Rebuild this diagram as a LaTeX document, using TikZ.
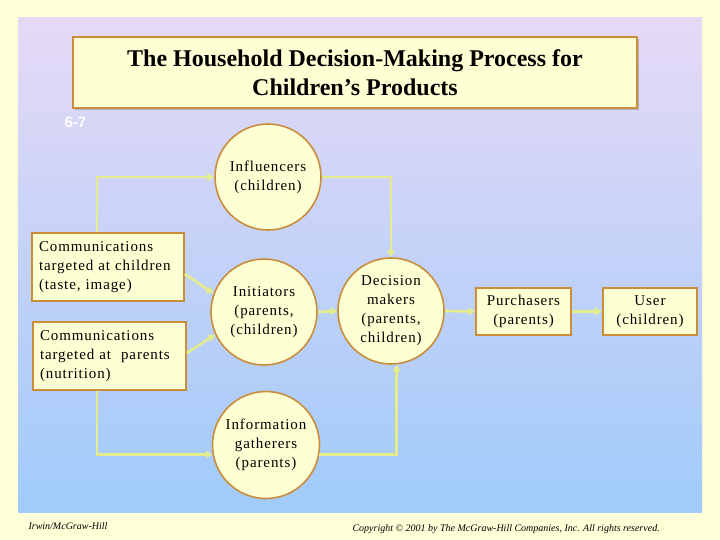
\documentclass[tikz,border=0pt]{standalone}
\usepackage{fontspec}
\setmainfont{Liberation Serif}
\newfontfamily\spacedserif{Liberation Serif}[LetterSpace=6]
\newfontfamily\tagsans{Liberation Sans}
\usetikzlibrary{arrows.meta,shadows}

\definecolor{pagebg}{HTML}{FFFFD8}
\definecolor{paneltop}{HTML}{E6D9F6}
\definecolor{panelbot}{HTML}{A0CBFA}
\definecolor{cream}{HTML}{FFFFD4}
\definecolor{rim}{HTML}{C98D3C}
\definecolor{wirecol}{HTML}{E4EC8C}

\tikzset{
  bubble/.style={circle,draw=rim,fill=cream,line width=1.6pt,minimum size=106pt,
    inner sep=0pt,align=center,font=\spacedserif\fontsize{15}{19}\selectfont},
  card/.style={rectangle,draw=rim,fill=cream,line width=1.6pt,inner sep=0pt,
    font=\spacedserif\fontsize{15}{19}\selectfont},
  feed/.style={draw=wirecol,line width=2.6pt,-{Triangle[length=7pt,width=7.5pt]}},
}

\begin{document}
\begin{tikzpicture}[x=1pt,y=-1pt]

	\fill[pagebg] (0,0) rectangle (720,540);
	\useasboundingbox (0,0) rectangle (720,540);
	\shade[top color=paneltop,bottom color=panelbot] (18,18) rectangle (702,512);

	\node[draw=rim,fill=cream,line width=1.6pt,minimum width=564pt,minimum height=71pt,
		align=center,font=\bfseries\fontsize{24}{28.5}\selectfont,
		drop shadow={shadow xshift=2pt,shadow yshift=-2pt,fill=black!45}]
		(head) at (355,72.5) {The Household Decision-Making Process for\\Children’s Products};
	\node[text=white,font=\tagsans\bfseries\fontsize{15}{15}\selectfont] (slide) at (75.5,122) {6-7};

	% people in the household
	\node[bubble] (infl) at (268,177) {Influencers\\(children)};
	\node[bubble] (init) at (264,312) {Initiators\\(parents,\\(children)};
	\node[bubble] (dec) at (391,311) {Decision\\makers\\(parents,\\children)};
	\node[bubble,minimum size=107pt] (info) at (266,445) {Information\\gatherers\\(parents)};

	\node[card,text width=138pt,inner xsep=7pt,minimum height=68pt,align=left] (kids) at (108,267)
		{Communications\\targeted at children\\(taste, image)};
	\node[card,text width=139pt,inner xsep=7pt,minimum height=68pt,align=left] (mums) at (109.5,356)
		{Communications\\targeted at \ parents\\(nutrition)};
	\node[card,minimum width=95pt,minimum height=47pt,align=center] (buy) at (523.5,311.5) {Purchasers\\(parents)};
	\node[card,minimum width=94pt,minimum height=47pt,align=center] (user) at (650,311.5) {User\\(children)};

	% links
	\draw[feed] ([xshift=-11pt]kids.north) |- (infl.west);
	\draw[feed] (infl.east) -| (dec.north);
	\draw[feed] ([yshift=-7pt]kids.east) -- (init.160);
	\draw[feed] ([yshift=3pt]mums.east) -- (init.205);
	\draw[feed] (init.east) -- (dec.west);
	\draw[feed] ([xshift=-12.5pt]mums.south) |- (info.190);
	\draw[feed] (info.350) -| (dec.-84);
	\draw[feed] (dec.east) -- (buy.west);
	\draw[feed] (buy.east) -- (user.west);

	\node[anchor=west,font=\itshape\fontsize{10}{12}\selectfont] (press) at (25,526) {Irwin/McGraw-Hill};
	\node[anchor=west,font=\itshape\fontsize{10}{12}\selectfont] (rights) at (349,529)
		{Copyright © 2001 by The McGraw-Hill Companies, Inc. All rights reserved.};
\end{tikzpicture}
\end{document}
